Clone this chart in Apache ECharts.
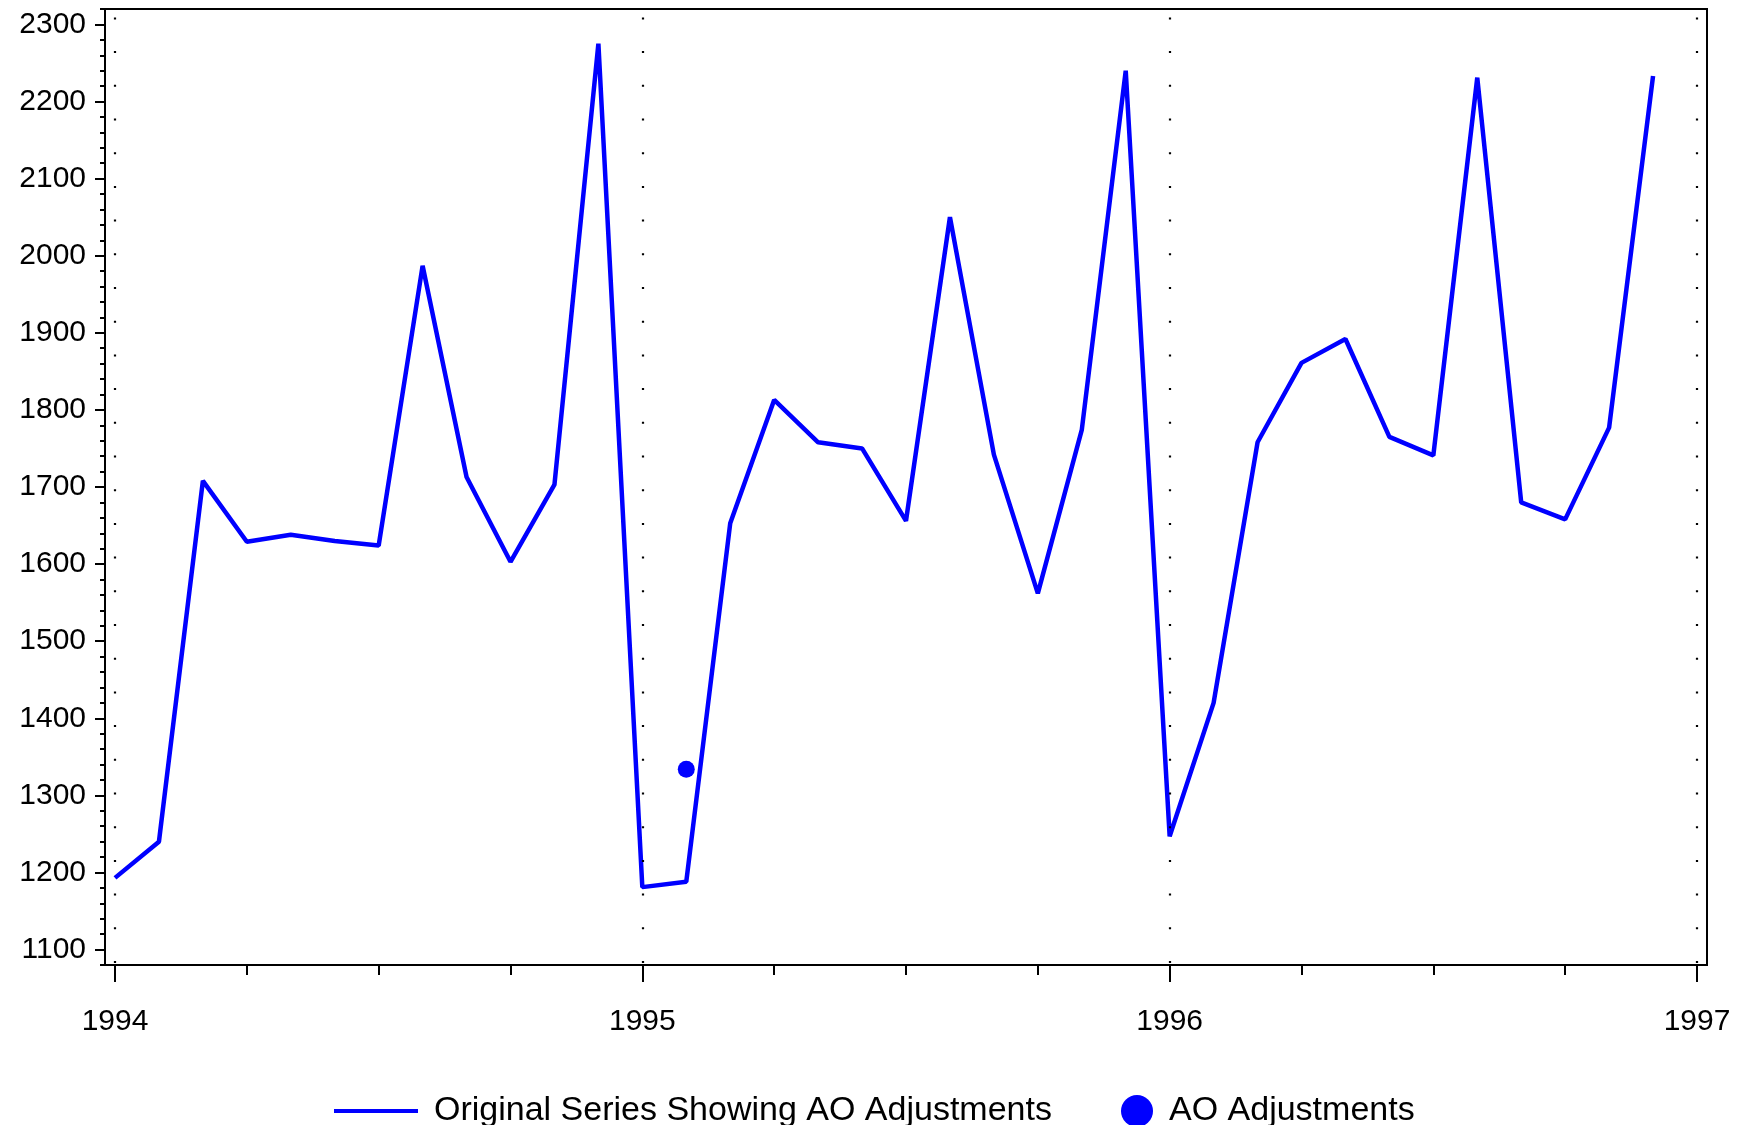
<!DOCTYPE html>
<html><head><meta charset="utf-8">
<script src="https://cdn.jsdelivr.net/npm/echarts@6/dist/echarts.min.js"></script>
<style>html,body{margin:0;padding:0;background:#fff}#c{width:1746px;height:1125px}</style>
</head><body><div id="c"></div>
<script>
// ---- data ----
const startYear = 1994;
const monthLabels = [
  '1994-01','1994-02','1994-03','1994-04','1994-05','1994-06','1994-07','1994-08','1994-09','1994-10','1994-11','1994-12',
  '1995-01','1995-02','1995-03','1995-04','1995-05','1995-06','1995-07','1995-08','1995-09','1995-10','1995-11','1995-12',
  '1996-01','1996-02','1996-03','1996-04','1996-05','1996-06','1996-07','1996-08','1996-09','1996-10','1996-11','1996-12'
];
const originalSeries = [
  1193, 1240, 1708, 1629, 1638, 1630, 1624, 1987, 1713, 1603, 1703, 2275,
  1181, 1188, 1653, 1813, 1758, 1750, 1656, 2050, 1742, 1562, 1774, 2240,
  1247, 1420, 1758, 1861, 1892, 1765, 1741, 2231, 1680, 1658, 1777, 2233
];
const aoMonths = ['1995-02'];
const aoValues = [1334];
const yearLabels = ['1994', '1995', '1996', '1997'];
const yTickLabels = [1100, 1200, 1300, 1400, 1500, 1600, 1700, 1800, 1900, 2000, 2100, 2200, 2300];
const seriesName = 'Original Series Showing AO Adjustments';
const aoName = 'AO Adjustments';

// month string -> months since Jan of startYear
function monthIndex(s) { const [y, m] = s.split('-').map(Number); return (y - startYear) * 12 + (m - 1); }
const lineData = monthLabels.map((m, i) => [monthIndex(m), originalSeries[i]]);
const aoData = aoMonths.map((m, i) => [monthIndex(m), aoValues[i]]);
const yearTicks = yearLabels.map(y => (Number(y) - startYear) * 12);
const quarterTicks = [];
for (let q = 3; q < 36; q += 3) if (q % 12 !== 0) quarterTicks.push(q);

const FONT = "'Liberation Sans', Arial, sans-serif";
const PAD = 0.2276;
const BLUE = '#0000ff';

const chart = echarts.init(document.getElementById('c'), null, {renderer: 'canvas'});
chart.setOption({
  animation: false,
  backgroundColor: '#fff',
  grid: {left: 105, top: 9, right: 39, bottom: 160, outerBoundsMode: 'none', containLabel: false,
    show: true, borderColor: '#000', borderWidth: 2, backgroundColor: 'transparent'},
  xAxis: [
    {
      type: 'value', min: -PAD, max: 36 + PAD, position: 'bottom',
      axisLine: {show: true, onZero: false, lineStyle: {color: '#000', width: 2}},
      axisTick: {show: true, customValues: yearTicks, length: 17, lineStyle: {color: '#000', width: 2}},
      axisLabel: {show: true, customValues: yearTicks, margin: 42, fontSize: 30, fontFamily: FONT, color: '#000',
        formatter: v => yearLabels[Math.round(v / 12)]},
      splitLine: {show: false}
    },
    {
      type: 'value', min: -PAD, max: 36 + PAD, position: 'bottom', offset: 0,
      axisLine: {show: false, onZero: false},
      axisTick: {show: true, customValues: quarterTicks, length: 10, lineStyle: {color: '#000', width: 2}},
      axisLabel: {show: false},
      splitLine: {show: false}
    }
  ],
  yAxis: [
    {
      type: 'value', min: 1080, max: 2320, position: 'left',
      axisLine: {show: true, onZero: false, lineStyle: {color: '#000', width: 2}},
      axisTick: {show: true, customValues: yTickLabels, length: 10, lineStyle: {color: '#000', width: 2}},
      axisLabel: {show: true, customValues: yTickLabels, margin: 19, fontSize: 30, fontFamily: FONT, color: '#000',
        formatter: v => String(v)},
      splitLine: {show: false}
    },
    {
      type: 'value', min: 1080, max: 2320, interval: 20, position: 'left', offset: 0,
      axisLine: {show: false, onZero: false},
      axisTick: {show: true, length: 5, lineStyle: {color: '#000', width: 2}},
      axisLabel: {show: false},
      splitLine: {show: false}
    }
  ],
  legend: [
    {
      data: [{name: seriesName, icon: 'rect'}], left: 329, top: 1089, itemWidth: 84, itemHeight: 4,
      itemStyle: {color: BLUE, borderWidth: 0},
      textStyle: {fontSize: 34, fontFamily: FONT, color: '#000', padding: [0, 0, 0, 11]}
    },
    {
      data: [{name: aoName, icon: 'circle'}], left: 1116, top: 1089, itemWidth: 32, itemHeight: 32,
      itemStyle: {color: BLUE, opacity: 1},
      textStyle: {fontSize: 34, fontFamily: FONT, color: '#000', padding: [0, 0, 0, 11]}
    }
  ],
  series: [
    {
      name: seriesName, type: 'line', xAxisIndex: 0, yAxisIndex: 0,
      data: lineData, symbol: 'none', showSymbol: false, color: BLUE,
      lineStyle: {color: BLUE, width: 4.5},
      markLine: {
        silent: true, symbol: 'none', label: {show: false},
        lineStyle: {color: '#000', width: 2.2, type: [2, 31.7], dashOffset: -2},
        emphasis: {disabled: true},
        data: yearTicks.map(v => ({xAxis: v}))
      }
    },
    {
      name: aoName, type: 'scatter', xAxisIndex: 0, yAxisIndex: 0,
      data: aoData, symbol: 'circle', symbolSize: 17, color: BLUE,
      itemStyle: {color: BLUE, opacity: 1}
    }
  ]
});
</script>
</body></html>
